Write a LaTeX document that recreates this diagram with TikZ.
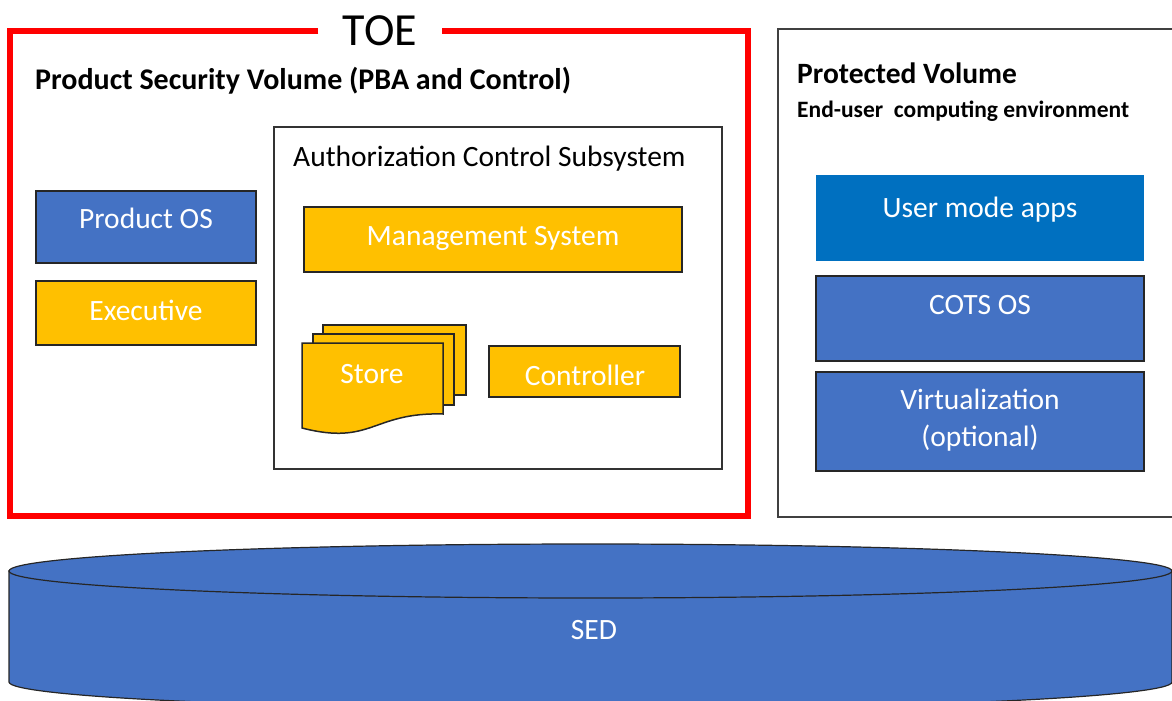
\documentclass[tikz,border=0pt]{standalone}
\usepackage{fontspec}
\setmainfont{Carlito}
\definecolor{osblue}{HTML}{4472C4}
\definecolor{appblue}{HTML}{0070C0}
\definecolor{gold}{HTML}{FFC000}
\definecolor{toered}{HTML}{FF0000}
\newcommand{\bt}{\fontsize{29.5}{37}\selectfont}
\newcommand{\st}{\fontsize{23.5}{27}\selectfont}

\begin{document}
\begin{tikzpicture}[x=1pt,y=-1pt,
    blk/.style={draw=black!85,line width=1.5pt},
    wtxt/.style={text=white,font=\bt,inner sep=0pt,align=center,anchor=base},
    btxt/.style={text=black,font=\bt,inner sep=0pt,anchor=base west}]
      \path[use as bounding box,clip] (0,0) rectangle (1172,701);
      % TOE frame
      \node[font=\fontsize{46}{50}\selectfont,minimum width=123pt,inner sep=0pt] (toe) at (380,31) {TOE};
      \draw[toered,line width=6.5pt] (toe.west) -- (10,31) -- (10,516) -- (748,516) -- (748,31) -- (toe.east);
      \node[btxt,font=\fontsize{30}{36}\selectfont\bfseries] (psv) at (35,89) {Product Security Volume (PBA and Control)};
      % protected volume
      \draw[black!75,line width=2pt] (1180,29) -- (778,29) -- (778,517) -- (1180,517);
      \node[btxt,font=\bt\bfseries] (pv) at (797,84) {Protected Volume};
      \node[btxt,font=\st\bfseries] (env) at (797,117) {End-user\ \ computing environment};
      % authorization control subsystem
      \draw[black!80,line width=1.5pt] (274,127) rectangle (722,469);
      \node[btxt] (acs) at (293,166) {Authorization Control Subsystem};
      \filldraw[blk,fill=osblue] (36,191) rectangle (256,263);
      \filldraw[blk,fill=gold] (36,281) rectangle (256,345);
      \filldraw[blk,fill=gold] (304,207) rectangle (682,272);
      \filldraw[blk,fill=gold] (489,346) rectangle (680,397);
      \node[wtxt] (pos) at (146,228) {Product OS};
      \node[wtxt] (exe) at (146,320) {Executive};
      \node[wtxt] (mgmt) at (493,245) {Management System};
      \node[wtxt] (ctrl) at (585,385) {Controller};
      % store (stacked documents)
      \filldraw[blk,fill=gold] (323,325) rectangle (466,395);
      \filldraw[blk,fill=gold] (313,334) rectangle (454,405);
      \filldraw[blk,fill=gold] (302,343) -- (443,343) -- (443,414)
          .. controls (372,412) and (372,446) .. (302,428) -- cycle;
      \node[wtxt] (store) at (372,383) {Store};
      % end-user stack
      \fill[appblue] (816,175) rectangle (1144,261);
      \filldraw[blk,fill=osblue] (816,276) rectangle (1144,361);
      \filldraw[blk,fill=osblue] (816,372) rectangle (1144,471);
      \node[wtxt] (apps) at (980,217) {User mode apps};
      \node[wtxt] (cots) at (980,314) {COTS OS};
      \node[wtxt] (virt) at (980,446) {Virtualization\\(optional)};
      % SED disk
      \filldraw[blk,line width=1.2pt,fill=osblue] (9,571) -- (9,682)
          arc[start angle=180,end angle=360,x radius=581.5pt,y radius=27pt] -- (1172,571) -- cycle;
      \filldraw[blk,line width=1.2pt,fill=osblue] (590.5,571) ellipse[x radius=581.5pt,y radius=27pt];
      \node[wtxt] (sed) at (594,639) {SED};
\end{tikzpicture}
\end{document}
